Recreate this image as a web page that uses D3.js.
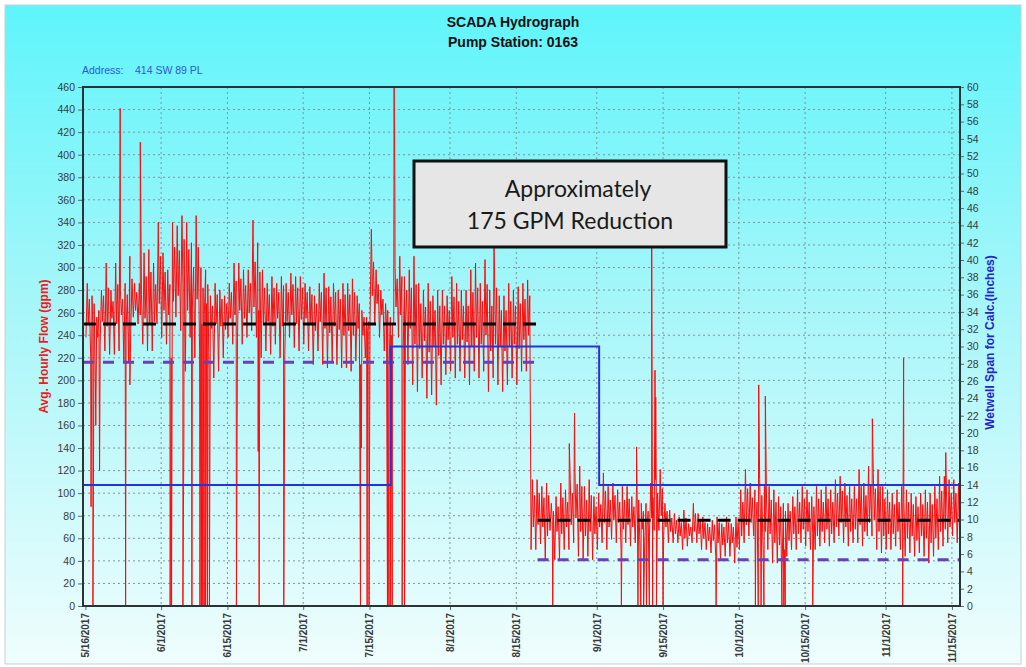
<!DOCTYPE html>
<html>
<head>
<meta charset="utf-8">
<script src="https://cdn.jsdelivr.net/npm/d3@7"></script>
<style>
  html, body { margin: 0; padding: 0; background: #ffffff; }
  svg { display: block; }
</style>
</head>
<body>
<svg id="chart" width="1026" height="667"></svg>
<script>
// ---- Axis ticks -------------------------------------------------------
const dateTicks = ["5/16/2017", "6/1/2017", "6/15/2017", "7/1/2017", "7/15/2017", "8/1/2017",
  "8/15/2017", "9/1/2017", "9/15/2017", "10/1/2017", "10/15/2017", "11/1/2017", "11/15/2017"];
const flowTicks = [0, 20, 40, 60, 80, 100, 120, 140, 160, 180, 200, 220, 240, 260, 280, 300,
  320, 340, 360, 380, 400, 420, 440, 460];
const spanTicks = [0, 2, 4, 6, 8, 10, 12, 14, 16, 18, 20, 22, 24, 26, 28, 30, 32, 34, 36, 38,
  40, 42, 44, 46, 48, 50, 52, 54, 56, 58, 60];

// ---- Hourly flow (gpm), four readings a day from 5/16/2017 -------------
// night trough, morning peak, afternoon dip, evening peak
const flowStart = new Date(2017, 4, 16);
const flowLow = [
  238, 220, 196, 232, 226, 223, 223, 226, 217, 217,
  256, 250, 232, 226, 226, 250, 238, 232, 220, 256,
  244, 208, 238, 220, 226, 259, 208, 202, 208, 220,
  238, 232, 238, 232, 238, 244, 238, 220, 226, 223,
  232, 220, 223, 238, 229, 226, 232, 226, 214, 226,
  214, 211, 217, 214, 211, 211, 208, 217, 214, 220,
  256, 250, 238, 226, 208, 250, 238, 226, 214, 196,
  190, 202, 184, 187, 178, 196, 205, 208, 202, 208,
  202, 196, 208, 202, 208, 190, 202, 196, 190, 196,
  202, 196, 208, 208, 50, 50, 55, 41, 67, 41,
  41, 50, 50, 56, 44, 41, 44, 41, 50, 56,
  50, 59, 56, 50, 56, 53, 56, 53, 56, 62,
  67, 67, 62, 56, 56, 56, 50, 53, 56, 56,
  50, 50, 47, 44, 41, 44, 44, 38, 50, 56,
  62, 62, 56, 50, 50, 38, 38, 30, 44, 50,
  50, 56, 53, 50, 50, 53, 56, 53, 56, 62,
  56, 53, 56, 56, 53, 62, 62, 50, 47, 50,
  50, 53, 50, 44, 47, 44, 47, 44, 38, 44,
  50, 53, 56, 62, 56
];
const flowHigh = [
  286, 275, 256, 280, 304, 280, 304, 280, 286, 310,
  286, 286, 313, 316, 304, 340, 313, 298, 340, 337,
  346, 340, 322, 346, 300, 298, 275, 286, 280, 275,
  286, 304, 304, 298, 298, 342, 322, 298, 286, 292,
  286, 292, 286, 295, 292, 292, 286, 283, 275, 286,
  295, 283, 286, 280, 286, 286, 290, 275, 262, 256,
  334, 298, 280, 268, 256, 300, 310, 292, 298, 310,
  286, 280, 286, 275, 280, 280, 275, 292, 286, 280,
  280, 298, 304, 286, 307, 280, 300, 275, 275, 286,
  280, 283, 286, 289, 112, 112, 106, 109, 91, 97,
  109, 103, 112, 118, 124, 106, 112, 97, 100, 118,
  106, 109, 103, 106, 106, 97, 106, 91, 91, 109,
  112, 121, 91, 85, 82, 79, 85, 73, 91, 82,
  79, 73, 76, 79, 73, 79, 73, 79, 103, 121,
  109, 103, 112, 106, 106, 103, 97, 91, 91, 97,
  103, 106, 103, 97, 106, 103, 106, 103, 112, 115,
  109, 106, 106, 121, 109, 124, 118, 121, 106, 103,
  100, 103, 106, 103, 100, 97, 100, 103, 100, 106,
  115, 115, 112, 112, 109
];
const flowDip = [
  250, 246, 238, 252, 248, 255, 250, 258, 244, 246,
  262, 258, 255, 250, 252, 268, 262, 258, 270, 275,
  285, 262, 265, 272, 250, 268, 246, 250, 248, 245,
  255, 258, 262, 255, 260, 265, 262, 250, 252, 248,
  255, 248, 252, 258, 250, 254, 255, 250, 244, 252,
  246, 242, 248, 245, 240, 244, 240, 246, 240, 244,
  275, 268, 258, 250, 240, 265, 258, 250, 246, 232,
  228, 235, 225, 230, 222, 232, 236, 238, 232, 236,
  234, 230, 238, 232, 240, 226, 232, 230, 226, 230,
  232, 228, 236, 240, 70, 72, 70, 62, 76, 66,
  64, 70, 72, 78, 66, 62, 66, 64, 70, 74,
  70, 76, 74, 68, 72, 70, 72, 68, 70, 78,
  82, 80, 70, 66, 64, 62, 60, 62, 66, 64,
  60, 58, 58, 56, 54, 56, 56, 52, 62, 72,
  74, 72, 70, 66, 64, 56, 54, 50, 58, 64,
  64, 68, 66, 64, 62, 66, 68, 64, 70, 74,
  70, 66, 68, 72, 66, 74, 76, 66, 62, 64,
  64, 66, 64, 60, 62, 58, 62, 60, 56, 60,
  66, 68, 70, 74, 70
];
const flowPeak = [
  272, 268, 262, 275, 282, 270, 285, 272, 276, 290,
  278, 276, 292, 296, 285, 310, 296, 285, 318, 315,
  325, 316, 300, 318, 282, 285, 266, 276, 272, 268,
  278, 288, 290, 284, 286, 305, 296, 282, 276, 282,
  278, 284, 278, 285, 282, 282, 278, 276, 268, 278,
  282, 274, 278, 272, 276, 276, 278, 268, 256, 252,
  305, 285, 272, 262, 250, 290, 292, 280, 282, 285,
  268, 265, 270, 262, 266, 266, 262, 274, 270, 266,
  266, 278, 282, 270, 285, 266, 282, 262, 262, 270,
  266, 268, 272, 275, 98, 100, 96, 98, 84, 88,
  96, 92, 100, 108, 106, 94, 98, 88, 90, 102,
  94, 98, 92, 94, 95, 88, 94, 84, 84, 96,
  100, 104, 84, 78, 76, 74, 78, 70, 82, 76,
  74, 70, 72, 74, 70, 74, 70, 74, 92, 104,
  96, 92, 98, 94, 94, 92, 88, 84, 84, 88,
  92, 95, 92, 88, 95, 92, 95, 92, 100, 102,
  98, 95, 95, 106, 98, 108, 104, 106, 95, 92,
  90, 92, 95, 92, 90, 88, 90, 92, 90, 95,
  102, 102, 100, 100, 98
];
// Single-hour readings outside the daily range: [days after 5/16/2017, gpm]
const flowSpikes = [
  [1.2, 88], [1.6, 0], [2.2, 160], [3.0, 120], [7.3, 368], [7.35, 441], [8.5, 0], [9.4, 196],
  [11.6, 411], [17.9, 0], [18.2, 0], [20.6, 0], [20.8, 150], [22.5, 0],
  [24.2, 0], [24.5, 0], [24.8, 0], [25.1, 0], [25.4, 0], [25.8, 0], [26.2, 0],
  [31.9, 0], [36.5, 137], [36.7, 0], [41.9, 0], [58.1, 0], [58.3, 140], [59.5, 0], [59.9, 0],
  [63.8, 0], [64.1, 0], [64.4, 0], [64.8, 0], [65.2, 460], [65.35, 384], [66.9, 0], [67.4, 0],
  [86.3, 318], [98.7, 0], [102.2, 144], [103.3, 171], [113.2, 0],
  [116.4, 141], [116.7, 0], [117.3, 0], [117.9, 0], [118.5, 0], [119.1, 0], [119.6, 318],
  [119.8, 0], [120.3, 209], [120.45, 185], [120.6, 0], [122.0, 0],
  [133.2, 0], [141.5, 0], [142.1, 0], [142.2, 196], [142.7, 0], [143.3, 0], [143.6, 186],
  [147.1, 0], [147.5, 0], [147.8, 0], [153.6, 0], [166.2, 166], [172.6, 0], [172.8, 220],
  [181.7, 136]
];

// ---- Before / after statistics (gpm) ----------------------------------
const periodBounds = ["2017-05-15T12:00", "2017-08-19T12:00", "2017-11-16T17:00"];
const avgFlow = [250, 76];
const minFlow = [216, 41];

// ---- Wetwell span used for the calculation (inches) -------------------
const wetwellBounds = ["2017-05-15T12:00", "2017-07-19T12:00", "2017-09-01T12:00", "2017-11-16T17:00"];
const wetwellSpan = [14, 30, 14];

// ---- Layout -----------------------------------------------------------
const W = 1026, H = 667;
const plot = { left: 83, right: 960, top: 87, bottom: 606 };

const svg = d3.select("#chart");
const defs = svg.append("defs");

const grad = defs.append("linearGradient")
  .attr("id", "bgGrad").attr("x1", 0).attr("y1", 0).attr("x2", 0).attr("y2", 1);
grad.append("stop").attr("offset", "0%").attr("stop-color", "#5ef5fb");
grad.append("stop").attr("offset", "45%").attr("stop-color", "#a6f6f9");
grad.append("stop").attr("offset", "100%").attr("stop-color", "#f0fdfd");

defs.append("clipPath").attr("id", "plotClip")
  .append("rect")
  .attr("x", plot.left).attr("y", plot.top)
  .attr("width", plot.right - plot.left).attr("height", plot.bottom - plot.top);

svg.append("rect")
  .attr("x", 5).attr("y", 5).attr("width", W - 10).attr("height", H - 8)
  .attr("fill", "url(#bgGrad)")
  .attr("stroke", "#c4d2d2").attr("stroke-width", 1);

// ---- Scales -----------------------------------------------------------
const parse = s => new Date(s);
const x = d3.scaleTime()
  .domain([parse("2017-05-15T12:00"), parse("2017-11-16T17:00")])
  .range([plot.left, plot.right]);
const yFlow = d3.scaleLinear().domain([0, 460]).range([plot.bottom, plot.top]);
const ySpan = d3.scaleLinear().domain([0, 60]).range([plot.bottom, plot.top]);

const tickDates = dateTicks.map(s => {
  const [m, d, y] = s.split("/").map(Number);
  return new Date(y, m - 1, d);
});
const atDay = d => new Date(flowStart.getTime() + d * 86400000);

// ---- Grid -------------------------------------------------------------
const grid = svg.append("g").attr("stroke", "#7f9696").attr("stroke-width", 1)
  .attr("stroke-dasharray", "2,3");
grid.selectAll("line.h").data(flowTicks.filter(v => v > 0 && v < 460)).join("line")
  .attr("x1", plot.left).attr("x2", plot.right)
  .attr("y1", d => yFlow(d)).attr("y2", d => yFlow(d));
grid.selectAll("line.v").data(tickDates.slice(1)).join("line")
  .attr("y1", plot.top).attr("y2", plot.bottom)
  .attr("x1", d => x(d)).attr("x2", d => x(d));

// ---- Flow series ------------------------------------------------------
const flowPoints = [];
flowLow.forEach((v, i) => {
  flowPoints.push({ t: atDay(i + 0.125), v: v });
  flowPoints.push({ t: atDay(i + 0.4), v: flowHigh[i] });
  flowPoints.push({ t: atDay(i + 0.6), v: flowDip[i] });
  flowPoints.push({ t: atDay(i + 0.85), v: flowPeak[i] });
});
flowSpikes.forEach(([d, v]) => flowPoints.push({ t: atDay(d), v: v }));
flowPoints.sort((a, b) => a.t - b.t);

const plotLayer = svg.append("g").attr("clip-path", "url(#plotClip)");

plotLayer.append("path")
  .datum(flowPoints)
  .attr("fill", "none")
  .attr("stroke", "#ff0a0a")
  .attr("stroke-width", 1)
  .attr("stroke-linejoin", "round")
  .attr("d", d3.line().x(p => x(p.t)).y(p => yFlow(p.v)));

// ---- Minimum and average flow lines -----------------------------------
const periods = avgFlow.map((a, i) => ({
  from: parse(periodBounds[i]), to: parse(periodBounds[i + 1]), avg: a, min: minFlow[i]
}));
plotLayer.selectAll("line.min").data(periods).join("line")
  .attr("x1", d => x(d.from)).attr("x2", d => x(d.to))
  .attr("y1", d => yFlow(d.min)).attr("y2", d => yFlow(d.min))
  .attr("stroke", "#6b3fb8").attr("stroke-width", 3).attr("stroke-dasharray", "11,9");
plotLayer.selectAll("line.avg").data(periods).join("line")
  .attr("x1", d => x(d.from)).attr("x2", d => x(d.to))
  .attr("y1", d => yFlow(d.avg)).attr("y2", d => yFlow(d.avg))
  .attr("stroke", "#000000").attr("stroke-width", 3).attr("stroke-dasharray", "13,7");

// ---- Wetwell span step line -------------------------------------------
const spanPoints = [];
wetwellSpan.forEach((s, i) => {
  spanPoints.push({ t: parse(wetwellBounds[i]), v: s });
  spanPoints.push({ t: parse(wetwellBounds[i + 1]), v: s });
});
plotLayer.append("path")
  .datum(spanPoints)
  .attr("fill", "none")
  .attr("stroke", "#2632e0")
  .attr("stroke-width", 2)
  .attr("d", d3.line().x(p => x(p.t)).y(p => ySpan(p.v)));

// ---- Axes -------------------------------------------------------------
const axisFont = "'Liberation Sans', Arial, sans-serif";

const leftAxis = svg.append("g")
  .attr("transform", `translate(${plot.left},0)`)
  .call(d3.axisLeft(yFlow).tickValues(flowTicks).tickSize(5).tickPadding(3));
const rightAxis = svg.append("g")
  .attr("transform", `translate(${plot.right},0)`)
  .call(d3.axisRight(ySpan).tickValues(spanTicks).tickSize(4).tickPadding(3));
const bottomAxis = svg.append("g")
  .attr("transform", `translate(0,${plot.bottom})`)
  .call(d3.axisBottom(x).tickValues(tickDates).tickFormat((d, i) => dateTicks[i]).tickSize(4));

[leftAxis, rightAxis, bottomAxis].forEach(g => {
  g.select(".domain").remove();
  g.selectAll(".tick line").attr("stroke", "#5a6a6a");
  g.selectAll("text").attr("fill", "#3a3a3a").style("font-family", axisFont);
});
leftAxis.selectAll("text").style("font-size", "10.5px");
rightAxis.selectAll("text").style("font-size", "10.5px");
bottomAxis.selectAll("text")
  .style("font-size", "10px").style("font-weight", "bold")
  .attr("transform", "rotate(-90)")
  .attr("x", -7).attr("y", 0).attr("dy", "0.35em")
  .style("text-anchor", "end");

// Plot frame
svg.append("rect")
  .attr("x", plot.left).attr("y", plot.top)
  .attr("width", plot.right - plot.left).attr("height", plot.bottom - plot.top)
  .attr("fill", "none").attr("stroke", "#2a3434").attr("stroke-width", 2);

// ---- Titles -----------------------------------------------------------
svg.append("text")
  .attr("x", 513).attr("y", 27).attr("text-anchor", "middle")
  .style("font-family", axisFont).style("font-size", "14px").style("font-weight", "bold")
  .attr("fill", "#111").text("SCADA Hydrograph");
svg.append("text")
  .attr("x", 513).attr("y", 47).attr("text-anchor", "middle")
  .style("font-family", axisFont).style("font-size", "14px").style("font-weight", "bold")
  .attr("fill", "#111").text("Pump Station: 0163");

svg.append("text")
  .attr("x", 82).attr("y", 74)
  .style("font-family", axisFont).style("font-size", "10.5px")
  .attr("fill", "#2f55d8").text("Address:");
svg.append("text")
  .attr("x", 135).attr("y", 74)
  .style("font-family", axisFont).style("font-size", "10.5px")
  .attr("fill", "#2f55d8").text("414 SW 89 PL");

svg.append("text")
  .attr("transform", `translate(48,${(plot.top + plot.bottom) / 2}) rotate(-90)`)
  .attr("text-anchor", "middle")
  .style("font-family", axisFont).style("font-size", "12px").style("font-weight", "bold")
  .attr("fill", "#f21a1a").text("Avg. Hourly Flow (gpm)");
svg.append("text")
  .attr("transform", `translate(994,${(plot.top + plot.bottom) / 2 - 4}) rotate(-90)`)
  .attr("text-anchor", "middle")
  .style("font-family", axisFont).style("font-size", "12px").style("font-weight", "bold")
  .attr("fill", "#2424d0").text("Wetwell Span for Calc.(Inches)");

// ---- Callout ----------------------------------------------------------
svg.append("rect")
  .attr("x", 414).attr("y", 161).attr("width", 312).attr("height", 86)
  .attr("fill", "#e6e6e6").attr("stroke", "#111").attr("stroke-width", 3);
svg.append("text")
  .attr("x", 578).attr("y", 197).attr("text-anchor", "middle")
  .style("font-family", "Lato, 'Open Sans', sans-serif").style("font-size", "23px")
  .attr("fill", "#1a1a1a").text("Approximately");
svg.append("text")
  .attr("x", 570).attr("y", 229).attr("text-anchor", "middle")
  .style("font-family", "Lato, 'Open Sans', sans-serif").style("font-size", "23px")
  .attr("fill", "#1a1a1a").text("175 GPM Reduction");
</script>
</body>
</html>
